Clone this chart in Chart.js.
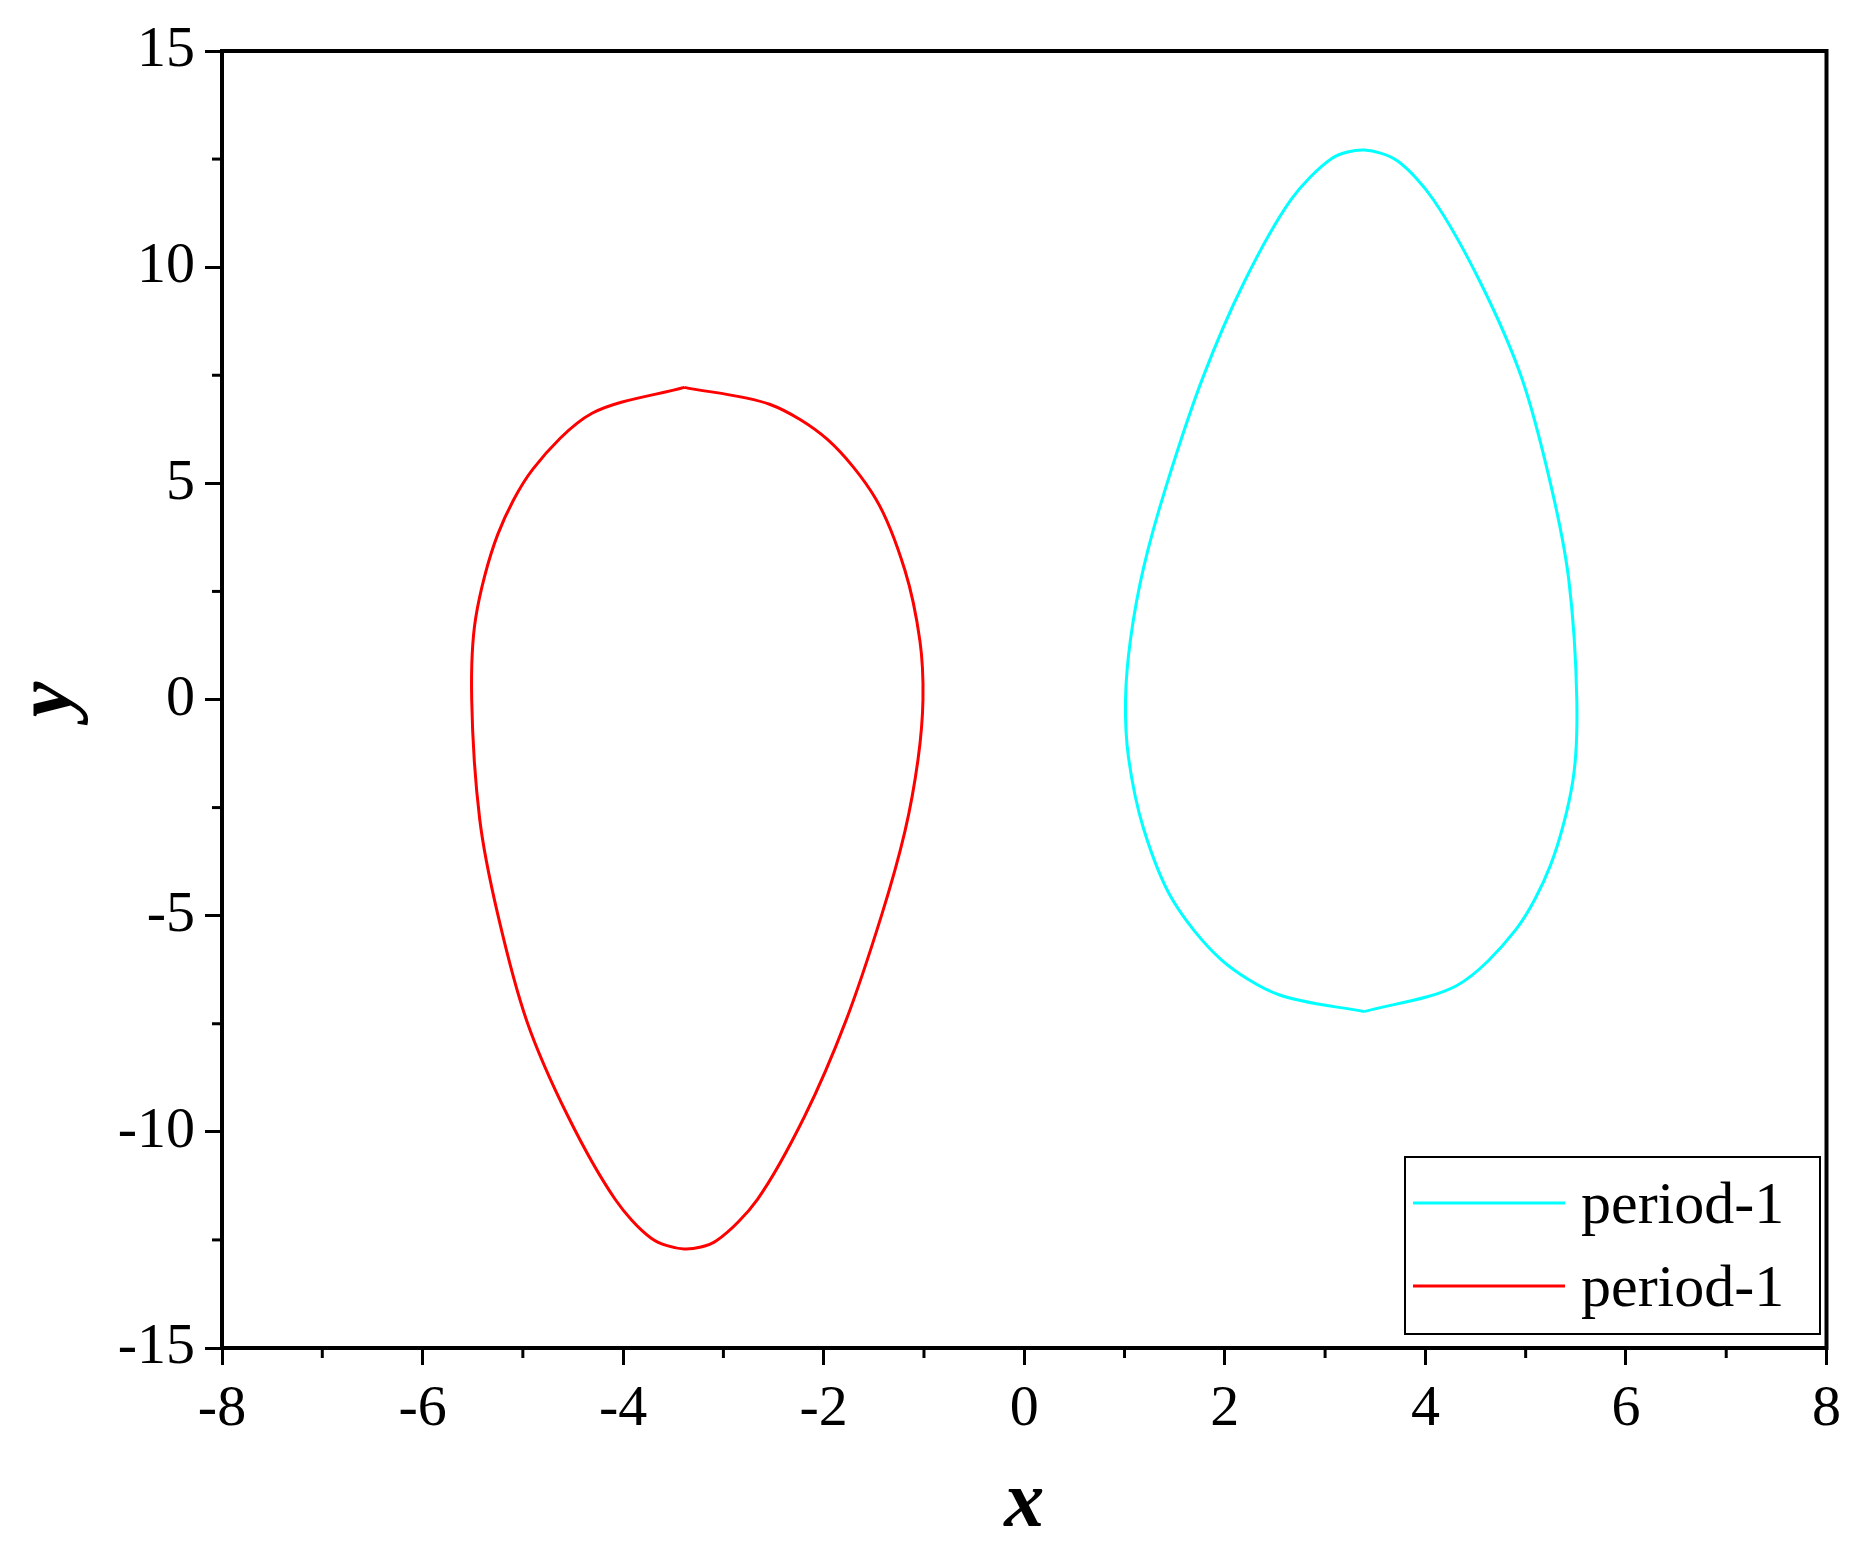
<!DOCTYPE html>
<html>
<head>
<meta charset="utf-8">
<script src="https://cdn.jsdelivr.net/npm/chart.js@4/dist/chart.umd.min.js"></script>
<style>
  html, body { margin: 0; padding: 0; background: #fff; }
  #wrap { width: 1851px; height: 1549px; }
</style>
</head>
<body>
<div id="wrap"><canvas id="phaseChart"></canvas></div>
<script>
// Orbit points, clockwise from the top
const redX = [-3.39, -2.54, -1.96, -1.48, -1.19, -1.04, -1.01, -1.06, -1.19, -1.42, -1.78, -2.19, -2.66, -3.07, -3.39,
  -3.72, -4.08, -4.55, -4.96, -5.25, -5.43, -5.51, -5.47, -5.25, -4.90, -4.31, -3.39];
const redY = [7.22, 6.83, 6.01, 4.64, 2.99, 1.35, 0, -1.40, -3.05, -4.97, -7.44, -9.64, -11.56, -12.52, -12.71,
  -12.46, -11.56, -9.64, -7.44, -4.97, -2.77, 0, 1.89, 3.82, 5.33, 6.62, 7.22];
const cyanX = [3.39, 2.54, 1.96, 1.48, 1.19, 1.04, 1.01, 1.06, 1.19, 1.42, 1.78, 2.19, 2.66, 3.07, 3.39,
  3.72, 4.08, 4.55, 4.96, 5.25, 5.43, 5.51, 5.47, 5.25, 4.90, 4.31, 3.39];
const cyanY = [-7.22, -6.83, -6.01, -4.64, -2.99, -1.35, 0, 1.40, 3.05, 4.97, 7.44, 9.64, 11.56, 12.52, 12.71,
  12.46, 11.56, 9.64, 7.44, 4.97, 2.77, 0, -1.89, -3.82, -5.33, -6.62, -7.22];
const seriesLabels = ['period-1', 'period-1'];
const seriesColors = ['#00ffff', '#ff0000'];

const toPoints = (xs, ys) => xs.map((x, i) => ({ x: x, y: ys[i] }));
const FONT = '"Liberation Serif", "DejaVu Serif", serif';

// Frame, minor ticks, axis titles and the boxed legend
const decorations = {
  id: 'decorations',
  afterDraw(chart) {
    const c = chart.ctx;
    const a = chart.chartArea;
    const xs = chart.scales.x, ys = chart.scales.y;
    c.save();
    c.strokeStyle = '#000';
    c.lineWidth = 4;
    c.strokeRect(a.left, a.top, a.right - a.left, a.bottom - a.top);
    c.lineWidth = 3;
    for (let v = -7; v <= 7; v += 2) {
      const px = xs.getPixelForValue(v);
      c.beginPath(); c.moveTo(px, a.bottom); c.lineTo(px, a.bottom + 10); c.stroke();
    }
    for (let v = -12.5; v <= 12.5; v += 5) {
      const py = ys.getPixelForValue(v);
      c.beginPath(); c.moveTo(a.left, py); c.lineTo(a.left - 10, py); c.stroke();
    }
    c.fillStyle = '#000';
    c.font = 'italic bold 80px ' + FONT;
    c.textAlign = 'center';
    c.textBaseline = 'middle';
    c.fillText('x', (a.left + a.right) / 2, 1505);
    c.save();
    c.translate(50, ys.getPixelForValue(0));
    c.rotate(-Math.PI / 2);
    c.fillText('y', 0, 0);
    c.restore();

    // legend box in lower right corner
    const bx = 1405, by = 1157, bw = 415, bh = 177;
    c.lineWidth = 2;
    c.strokeRect(bx, by, bw, bh);
    c.font = '60px ' + FONT;
    c.textAlign = 'left';
    seriesLabels.forEach((lab, i) => {
      const ly = by + 46 + i * 83;
      c.strokeStyle = seriesColors[i];
      c.lineWidth = 3;
      c.beginPath(); c.moveTo(bx + 8, ly); c.lineTo(bx + 160, ly); c.stroke();
      c.fillText(lab, bx + 176, ly + 4);
    });
    c.restore();
  }
};

const ctx = document.getElementById('phaseChart').getContext('2d');
new Chart(ctx, {
  type: 'scatter',
  data: {
    datasets: [
      {
        label: seriesLabels[0],
        data: toPoints(cyanX, cyanY),
        borderColor: seriesColors[0],
        showLine: true,
        tension: 0.3,
        borderWidth: 3,
        pointRadius: 0
      },
      {
        label: seriesLabels[1],
        data: toPoints(redX, redY),
        borderColor: seriesColors[1],
        showLine: true,
        tension: 0.3,
        borderWidth: 3,
        pointRadius: 0
      }
    ]
  },
  options: {
    responsive: true,
    maintainAspectRatio: false,
    animation: false,
    layout: { padding: { left: 0, top: 51, right: 18, bottom: 0 } },
    plugins: { legend: { display: false }, tooltip: { enabled: false } },
    scales: {
      x: {
        type: 'linear', min: -8, max: 8,
        afterFit: s => { s.height = 201; },
        ticks: { stepSize: 2, color: '#000', font: { family: FONT, size: 58 }, padding: 10, maxRotation: 0 },
        grid: { drawOnChartArea: false, color: '#000', lineWidth: 3, tickLength: 17 },
        border: { color: '#000', width: 4 }
      },
      y: {
        type: 'linear', min: -15, max: 15,
        afterFit: s => { s.width = 222; },
        ticks: { stepSize: 5, color: '#000', font: { family: FONT, size: 58 }, padding: 10 },
        grid: { drawOnChartArea: false, color: '#000', lineWidth: 3, tickLength: 17 },
        border: { color: '#000', width: 4 }
      }
    }
  },
  plugins: [decorations]
});
</script>
</body>
</html>
